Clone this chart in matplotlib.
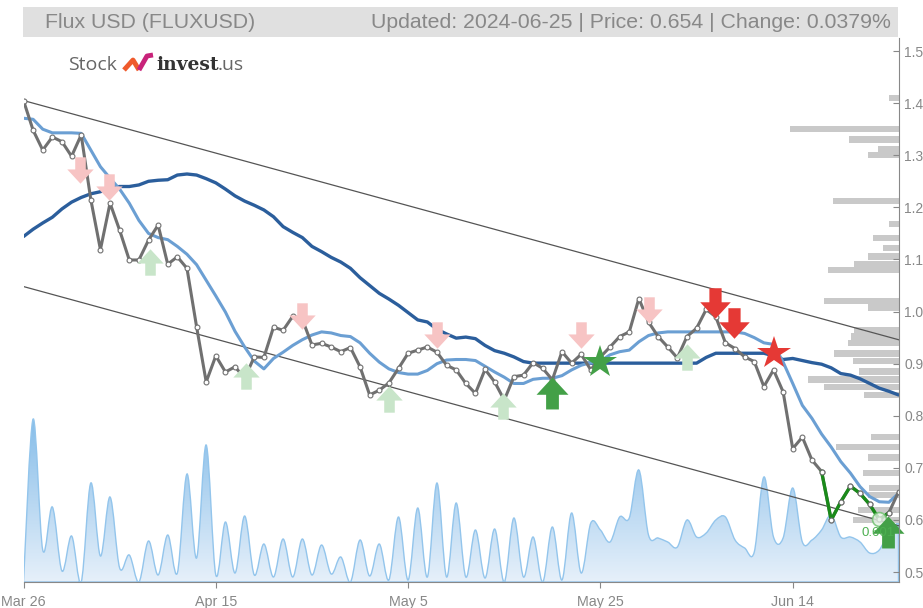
import numpy as np
import matplotlib
matplotlib.use("Agg")
import matplotlib.pyplot as plt
from matplotlib.path import Path
from matplotlib.patches import PathPatch, Rectangle
from matplotlib.lines import Line2D
from matplotlib.colors import LinearSegmentedColormap

plt.rcParams['font.family'] = ['Liberation Sans', 'DejaVu Sans']

# daily closes, Mar 26 .. Jun 25 2024 (92 days)
price = [1.405, 1.348, 1.310, 1.335, 1.326, 1.298, 1.339, 1.215, 1.119, 1.208,
         1.156, 1.099, 1.099, 1.137, 1.166, 1.091, 1.105, 1.083, 0.971, 0.865,
         0.915, 0.884, 0.894, 0.872, 0.913, 0.912, 0.970, 0.964, 0.991, 0.985,
         0.936, 0.939, 0.932, 0.923, 0.931, 0.894, 0.840, 0.849, 0.863, 0.891,
         0.920, 0.926, 0.932, 0.922, 0.897, 0.888, 0.862, 0.843, 0.889, 0.865,
         0.830, 0.875, 0.878, 0.902, 0.891, 0.869, 0.923, 0.901, 0.918, 0.888,
         0.913, 0.932, 0.952, 0.961, 1.025, 0.980, 0.952, 0.932, 0.911, 0.952,
         0.968, 1.004, 0.990, 0.940, 0.929, 0.913, 0.904, 0.856, 0.888, 0.846,
         0.737, 0.759, 0.715, 0.693, 0.600, 0.635, 0.665, 0.651, 0.630, 0.601,
         0.614, 0.654]

ma_short = [1.371, 1.369, 1.350, 1.343, 1.343, 1.343, 1.342, 1.310, 1.278, 1.256,
            1.235, 1.208, 1.175, 1.150, 1.142, 1.138, 1.125, 1.110, 1.090, 1.060,
            1.030, 0.999, 0.962, 0.932, 0.905, 0.890, 0.910, 0.922, 0.935, 0.946,
            0.955, 0.961, 0.959, 0.954, 0.952, 0.940, 0.920, 0.903, 0.890, 0.883,
            0.880, 0.880, 0.887, 0.900, 0.907, 0.908, 0.908, 0.906, 0.895, 0.884,
            0.874, 0.862, 0.862, 0.870, 0.872, 0.872, 0.877, 0.888, 0.897, 0.902,
            0.905, 0.917, 0.923, 0.926, 0.942, 0.954, 0.959, 0.961, 0.961, 0.961,
            0.961, 0.961, 0.961, 0.961, 0.961, 0.958, 0.950, 0.940, 0.937, 0.903,
            0.862, 0.820, 0.795, 0.765, 0.740, 0.712, 0.690, 0.664, 0.645, 0.635,
            0.634, 0.651]

ma_long = [1.144, 1.158, 1.170, 1.181, 1.197, 1.210, 1.219, 1.226, 1.230, 1.238,
           1.240, 1.240, 1.243, 1.250, 1.252, 1.253, 1.262, 1.264, 1.262, 1.255,
           1.247, 1.235, 1.222, 1.212, 1.204, 1.195, 1.182, 1.163, 1.152, 1.142,
           1.125, 1.115, 1.104, 1.095, 1.083, 1.065, 1.050, 1.035, 1.024, 1.012,
           0.998, 0.984, 0.980, 0.966, 0.957, 0.949, 0.951, 0.948, 0.935, 0.925,
           0.920, 0.913, 0.904, 0.901, 0.901, 0.901, 0.901, 0.901, 0.901, 0.901,
           0.901, 0.901, 0.901, 0.901, 0.901, 0.901, 0.901, 0.901, 0.901, 0.901,
           0.901, 0.912, 0.920, 0.920, 0.920, 0.920, 0.920, 0.920, 0.915, 0.908,
           0.910, 0.906, 0.902, 0.899, 0.892, 0.881, 0.878, 0.871, 0.862, 0.853,
           0.847, 0.840]

volume = [0, 163, 32, 75, 11, 46, 0, 99, 26, 85,
          14, 27, 0, 41, 7, 47, 9, 108, 24, 137,
          7, 60, 9, 66, 7, 38, 5, 43, 5, 43,
          7, 37, 8, 25, 0, 42, 6, 38, 2, 65,
          2, 74, 5, 99, 5, 79, 5, 52, 4, 53,
          0, 64, 5, 45, 0, 55, 2, 69, 9, 59,
          52, 40, 65, 64, 112, 47, 44, 40, 35, 62,
          45, 49, 62, 65, 42, 34, 30, 105, 45, 44,
          94, 40, 42, 52, 67, 45, 45, 40, 29, 32,
          50, 60]

# price level volume profile
profile_price = [1.410, 1.350, 1.330, 1.312, 1.300, 1.212, 1.168, 1.141, 1.122, 1.106,
                 1.091, 1.080, 1.020, 1.008, 0.964, 0.952, 0.940, 0.920, 0.905, 0.885,
                 0.870, 0.855, 0.840, 0.759, 0.740, 0.720, 0.690, 0.661, 0.648, 0.619,
                 0.600]
profile_vol = [10, 109, 50, 21, 31, 66, 10, 26, 16, 31,
               45, 71, 75, 31, 45, 48, 51, 65, 46, 40,
               91, 75, 35, 28, 63, 31, 36, 30, 31, 41,
               46]

# trend channel (start day 0, end day 91)
channel_upper = [1.405, 0.946]
channel_lower = [1.048, 0.589]

tick_days = [0, 20, 40, 60, 80]
tick_labels = ['Mar 26', 'Apr 15', 'May 5', 'May 25', 'Jun 14']
y_ticks = [0.5, 0.6, 0.7, 0.8, 0.9, 1.0, 1.1, 1.2, 1.3, 1.4, 1.5]

# signals
sell_faint_day = [5.85, 8.9, 29.0, 43.0, 58.0, 65.0]
sell_faint_price = [1.271, 1.240, 0.991, 0.955, 0.955, 1.003]
sell_day = [71.9, 73.9]
sell_price = [1.016, 0.978]
buy_faint_day = [13.2, 23.1, 38.0, 49.9, 69.0]
buy_faint_price = [1.096, 0.876, 0.833, 0.818, 0.913]
buy_day = [55.0, 89.9]
buy_price = [0.843, 0.577]
star_sell = (78.0, 0.920)
star_buy = (60.0, 0.903)
green_from, green_to = 83, 90

W, H = 923, 608
fig = plt.figure(figsize=(W / 100, H / 100), dpi=100)
rect = [23.5 / W, (H - 582) / H, 875 / W, 544 / H]

days = np.arange(len(price))
n = len(days)

# volume area (smooth curve)
axv = fig.add_axes(rect, zorder=1)
axv.axis('off')
vx = days.astype(float)
vy = np.array(volume, float)
verts = [(vx[0], 0), (vx[0], vy[0])]
codes = [Path.MOVETO, Path.LINETO]
for i in range(n - 1):
    a, b = max(i - 1, 0), min(i + 2, n - 1)
    c1 = (vx[i] + (vx[i + 1] - vx[a]) / 6, vy[i] + (vy[i + 1] - vy[a]) / 6)
    c2 = (vx[i + 1] - (vx[b] - vx[i]) / 6, vy[i + 1] - (vy[b] - vy[i]) / 6)
    verts += [c1, c2, (vx[i + 1], vy[i + 1])]
    codes += [Path.CURVE4] * 3
verts += [(vx[-1], 0), (vx[0], 0)]
codes += [Path.LINETO, Path.CLOSEPOLY]
vpath = Path(verts, codes)
clip = PathPatch(vpath, facecolor='none', edgecolor='none')
axv.add_patch(clip)
cmap = LinearSegmentedColormap.from_list('v', ['#e6f0fa', '#86bde9'])
grad = np.linspace(0, 1, 200).reshape(-1, 1)
im = axv.imshow(grad, extent=(0, n - 1, 0, 165), aspect='auto', origin='lower', cmap=cmap)
im.set_clip_path(clip)
axv.add_patch(PathPatch(vpath, facecolor='none', edgecolor='#93c5ec', lw=1))
axv.set_xlim(0, n - 1)
axv.set_ylim(0, 544)

# volume profile bars
axp = fig.add_axes(rect, zorder=2)
axp.set_xlim(875, 0)
axp.set_ylim(0.481, 1.525)
axp.barh(profile_price, profile_vol, height=0.0125, left=0, color='#c9c9c9', edgecolor='none')
axp.axis('off')

# main price axes
ax = fig.add_axes(rect, zorder=3)
ax.patch.set_visible(False)
ax.set_xlim(0, n - 1)
ax.set_ylim(0.481, 1.525)

ax.plot([0, n - 1], channel_upper, color='#555555', lw=0.9)
ax.plot([0, n - 1], channel_lower, color='#555555', lw=0.9)
ax.plot(days, ma_long, color='#2b5e9c', lw=2.4, solid_capstyle='round')
ax.plot(days, ma_short, color='#6b9fd3', lw=2.2, solid_capstyle='round')
ax.plot(days, price, color='#707070', lw=2.2, marker='o', ms=3.5,
        mfc='white', mec='#707070', mew=0.8)
ax.plot(days[green_from:green_to + 1], price[green_from:green_to + 1], color='#1a8a1a', lw=2.4,
        marker='o', ms=3.5, mfc='white', mec='#707070', mew=0.8)

# signal markers
down = Path([(-0.2, 0.5), (0.2, 0.5), (0.2, 0.04), (0.5, 0.04), (0, -0.5),
             (-0.5, 0.04), (-0.2, 0.04), (-0.2, 0.5)],
            [Path.MOVETO] + [Path.LINETO] * 6 + [Path.CLOSEPOLY])
up = Path([(-0.2, -0.5), (0.2, -0.5), (0.2, -0.04), (0.5, -0.04), (0, 0.5),
           (-0.5, -0.04), (-0.2, -0.04), (-0.2, -0.5)],
          [Path.MOVETO] + [Path.LINETO] * 6 + [Path.CLOSEPOLY])
ax.plot(sell_faint_day, sell_faint_price, ls='none', marker=down, ms=19, mfc='#f7c4c4', mew=0)
ax.plot(buy_faint_day, buy_faint_price, ls='none', marker=up, ms=19, mfc='#c8e5c9', mew=0)

ax.plot(89, 0.601, 'o', ms=10, mfc='#e3f2e3', mec='#6cbf6c', mew=1.2, alpha=0.8)
ax.text(87.2, 0.575, '0.601', color='#4caf50', fontsize=9.5, ha='left', va='center')

ax.plot(sell_day, sell_price, ls='none', marker=down, ms=22, mfc='#e53935', mew=0, clip_on=False)
ax.plot(buy_day, buy_price, ls='none', marker=up, ms=23, mfc='#43a047', mew=0, clip_on=False)
ax.plot(*star_sell, ls='none', marker='*', ms=25, mfc='#e53935', mew=0)
ax.plot(*star_buy, ls='none', marker='*', ms=25, mfc='#43a047', mew=0)

# axes styling
for s in ['top', 'left']:
    ax.spines[s].set_visible(False)
ax.spines['right'].set_color('#888888')
ax.spines['bottom'].set_color('#888888')
ax.yaxis.tick_right()
ax.set_yticks(y_ticks)
ax.set_yticklabels([f'{v:.1f}' for v in y_ticks])
ax.tick_params(axis='y', direction='in', length=4.5, pad=4, colors='#888888', labelsize=10)
ax.set_xticks(tick_days)
ax.set_xticklabels(tick_labels)
ax.tick_params(axis='x', direction='out', length=4.5, pad=5, colors='#888888', labelsize=10.3)

# header bar
fig.patches.append(Rectangle((23 / W, 1 - 37 / H), 875 / W, 30 / H, transform=fig.transFigure,
                             facecolor='#e0e0e0', edgecolor='none', zorder=0))
fig.text(45 / W, 1 - 22 / H, 'Flux USD (FLUXUSD)', color='#888888', fontsize=15.3, va='center')
fig.text(891 / W, 1 - 22 / H, 'Updated: 2024-06-25 | Price: 0.654 | Change: 0.0379%',
         color='#888888', fontsize=15.3, va='center', ha='right')

# logo
fig.text(68 / W, 1 - 65 / H, 'Stock', color='#666666', fontsize=14, va='center', family='Open Sans')
fig.add_artist(Line2D([124 / W, 133 / W, 139 / W], [1 - 70 / H, 1 - 60 / H, 1 - 70 / H],
                      transform=fig.transFigure, color='#ef5a2c', lw=3.5, solid_capstyle='butt'))
fig.add_artist(Line2D([139 / W, 147 / W, 153 / W], [1 - 70 / H, 1 - 56 / H, 1 - 55 / H],
                      transform=fig.transFigure, color='#c8237a', lw=3.5, solid_capstyle='butt'))
fig.text(156 / W, 1 - 65 / H, 'invest', color='#333333', fontsize=13.5, va='center',
         fontweight='bold', family='DejaVu Serif')
fig.text(218 / W, 1 - 65 / H, '.us', color='#666666', fontsize=14, va='center', family='Open Sans')

plt.savefig('out.png', dpi=100)
